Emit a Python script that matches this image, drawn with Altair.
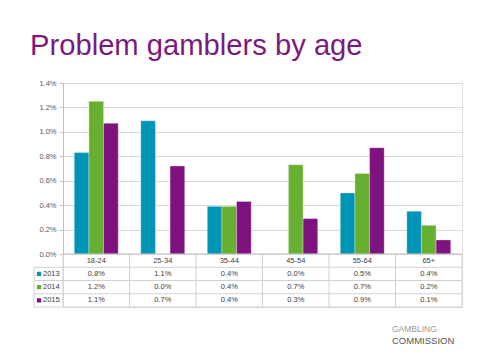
import altair as alt
import pandas as pd

categories = ["18-24", "25-34", "35-44", "45-54", "55-64", "65+"]
years = ["2013", "2014", "2015"]
values_2013 = [0.83, 1.09, 0.39, 0.0, 0.50, 0.35]
values_2014 = [1.25, 0.0, 0.39, 0.73, 0.66, 0.235]
values_2015 = [1.07, 0.72, 0.43, 0.29, 0.87, 0.115]
labels_2013 = ["0.8%", "1.1%", "0.4%", "0.0%", "0.5%", "0.4%"]
labels_2014 = ["1.2%", "0.0%", "0.4%", "0.7%", "0.7%", "0.2%"]
labels_2015 = ["1.1%", "0.7%", "0.4%", "0.3%", "0.9%", "0.1%"]
y_ticks = [0.0, 0.2, 0.4, 0.6, 0.8, 1.0, 1.2, 1.4]
colors = ["#0095B6", "#66AF31", "#7E127F"]
title_text = ["Problem gamblers by age"]
logo_top = ["GAMBLING"]
logo_bottom = ["COMMISSION"]

rows = []
for yr, vals, labs in zip(years, [values_2013, values_2014, values_2015],
                          [labels_2013, labels_2014, labels_2015]):
    for c, v, l in zip(categories, vals, labs):
        rows.append({"age": c, "year": yr, "value": v, "label": l})
df = pd.DataFrame(rows)
hdr_df = pd.DataFrame({"age": categories, "row": ["hdr"] * len(categories)})
year_df = pd.DataFrame({"year": years})
one = pd.DataFrame({"k": [0]})

W, H = 399, 224
BAR_H = 171
ROW_H = (H - BAR_H) / 4
LEFT = -29
GRID = "#D0D0D0"

x_scale = alt.Scale(domain=categories, paddingInner=0, paddingOuter=0)
row_scale = alt.Scale(domain=["hdr"] + years, range=[BAR_H, H], paddingInner=0, paddingOuter=0)
color_scale = alt.Scale(domain=years, range=colors)

bars = alt.Chart(df).mark_bar(stroke="#FFFFFF", strokeWidth=0.5, strokeOpacity=0.6).encode(
    x=alt.X("age:N", scale=x_scale, axis=None, sort=categories),
    xOffset=alt.XOffset("year:N", scale=alt.Scale(domain=years, paddingInner=0, paddingOuter=0.77)),
    y=alt.Y("value:Q",
            scale=alt.Scale(domain=[0, 1.4], range=[BAR_H, 0], nice=False, zero=True),
            axis=alt.Axis(values=y_ticks, labelExpr="format(datum.value, '.1f') + '%'",
                          grid=True, gridColor="#D9D9D9", gridWidth=1,
                          domain=True, domainColor="#BFBFBF", ticks=True, tickSize=4,
                          tickColor="#BFBFBF", labelFontSize=7.5, labelColor="#595959",
                          labelPadding=3, title=None)),
    color=alt.Color("year:N", scale=color_scale, legend=None),
)

hdr_text = alt.Chart(hdr_df).mark_text(fontSize=7.5, color="#404040").encode(
    x=alt.X("age:N", scale=x_scale, axis=None),
    y=alt.Y("row:N", scale=row_scale, axis=None),
    text="age:N",
)

val_text = alt.Chart(df).mark_text(fontSize=7.5, color="#404040").encode(
    x=alt.X("age:N", scale=x_scale, axis=None),
    y=alt.Y("year:N", scale=row_scale, axis=None),
    text="label:N",
)

vlines = alt.Chart(hdr_df).mark_rule(color=GRID, strokeWidth=1).encode(
    x=alt.X("age:N", scale=x_scale, axis=None, bandPosition=0),
    y=alt.value(BAR_H),
    y2=alt.value(H),
)

edge_lines = alt.Chart(one).mark_rule(color=GRID, strokeWidth=1).encode(
    x=alt.value(W), y=alt.value(BAR_H), y2=alt.value(H),
)

left_line = alt.Chart(one).mark_rule(color=GRID, strokeWidth=1).encode(
    x=alt.value(LEFT), y=alt.value(BAR_H + ROW_H), y2=alt.value(H),
)

hlines = alt.Chart(year_df).mark_rule(color=GRID, strokeWidth=1).encode(
    y=alt.Y("year:N", scale=row_scale, axis=None, bandPosition=0),
    x=alt.value(LEFT),
    x2=alt.value(W),
)

bottom_line = alt.Chart(one).mark_rule(color=GRID, strokeWidth=1).encode(
    y=alt.value(H), x=alt.value(LEFT), x2=alt.value(W),
)

axis_line = alt.Chart(one).mark_rule(color="#BFBFBF", strokeWidth=1).encode(
    y=alt.value(BAR_H), x=alt.value(0), x2=alt.value(W),
)

legend_sq = alt.Chart(year_df).mark_point(shape="square", filled=True, size=18, opacity=1).encode(
    x=alt.value(LEFT + 5),
    y=alt.Y("year:N", scale=row_scale, axis=None),
    color=alt.Color("year:N", scale=color_scale, legend=None),
)

legend_txt = alt.Chart(year_df).mark_text(fontSize=7.5, color="#404040", align="left").encode(
    x=alt.value(LEFT + 9),
    y=alt.Y("year:N", scale=row_scale, axis=None),
    text="year:N",
)

title = alt.Chart(pd.DataFrame({"t": title_text})).mark_text(
    fontSize=29.2, color="#7B1A7E", align="left", baseline="alphabetic",
    font="Liberation Sans").encode(
    x=alt.value(-33), y=alt.value(-28), text="t:N")

logo1 = alt.Chart(pd.DataFrame({"t": logo_top})).mark_text(
    fontSize=8.5, color="#9A9A9A", align="left", baseline="alphabetic").encode(
    x=alt.value(329), y=alt.value(249), text="t:N")
logo2 = alt.Chart(pd.DataFrame({"t": logo_bottom})).mark_text(
    fontSize=9.5, color="#555555", align="left", baseline="alphabetic").encode(
    x=alt.value(329), y=alt.value(261), text="t:N")

chart = alt.layer(
    bars, vlines, edge_lines, left_line, hlines, bottom_line, axis_line,
    hdr_text, val_text, legend_sq, legend_txt, title, logo1, logo2,
).resolve_scale(y="independent").properties(
    width=W, height=H,
    autosize=alt.AutoSizeParams(type="none"),
    padding={"left": 55, "top": 75, "right": 10, "bottom": 49},
).configure_view(stroke=None).configure(font="Liberation Sans")

chart.save("out.html", embed_options={"renderer": "svg", "actions": False})
